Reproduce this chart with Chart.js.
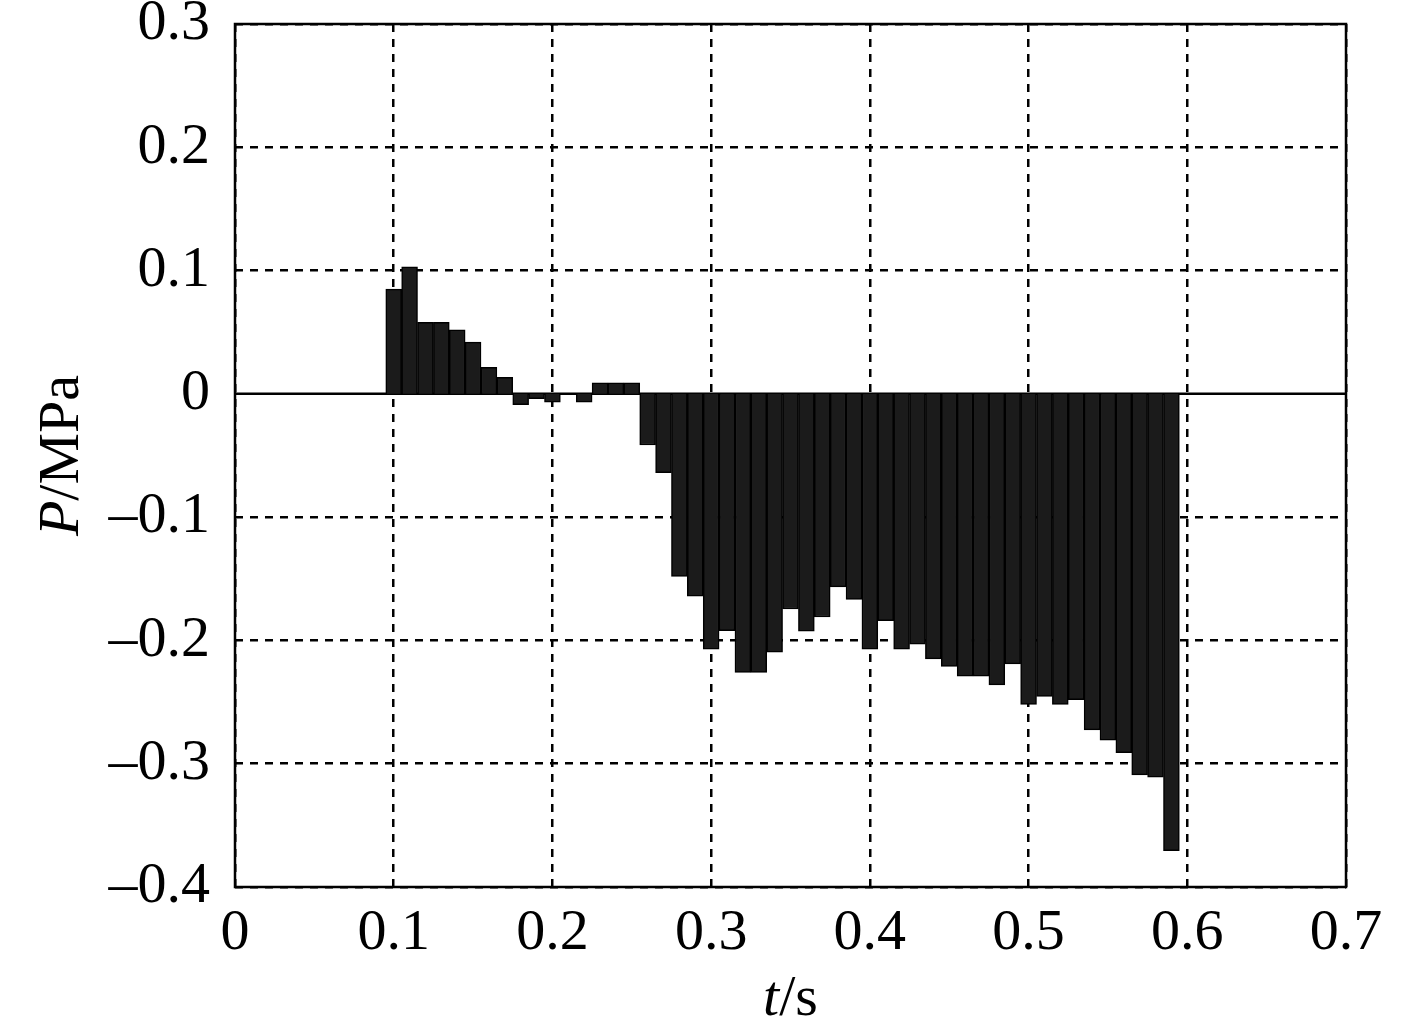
<!DOCTYPE html>
<html>
<head>
<meta charset="utf-8">
<script src="https://cdn.jsdelivr.net/npm/chart.js@4.4.1/dist/chart.umd.min.js"></script>
<style>
    html, body { margin: 0; padding: 0; background: #fff; }
</style>
</head>
<body>
<canvas id="grafico" width="1417" height="1025"></canvas>
<script>
// tempo (s) no centro de cada barra
var tempos = [
    0.10, 0.11, 0.12, 0.13, 0.14, 0.15, 0.16, 0.17, 0.18, 0.19,
    0.20, 0.21, 0.22, 0.23, 0.24, 0.25, 0.26, 0.27, 0.28, 0.29,
    0.30, 0.31, 0.32, 0.33, 0.34, 0.35, 0.36, 0.37, 0.38, 0.39,
    0.40, 0.41, 0.42, 0.43, 0.44, 0.45, 0.46, 0.47, 0.48, 0.49,
    0.50, 0.51, 0.52, 0.53, 0.54, 0.55, 0.56, 0.57, 0.58, 0.59
]

// pressao (MPa)
var pressao = [
    0.085, 0.103, 0.058, 0.058, 0.052, 0.042, 0.0215, 0.0134, -0.0087, -0.004,
    -0.0068, 0, -0.0068, 0.009, 0.009, 0.009, -0.0415, -0.064, -0.148, -0.164,
    -0.207, -0.192, -0.226, -0.226, -0.2095, -0.1745, -0.1925, -0.181, -0.1565, -0.1667,
    -0.207, -0.184, -0.207, -0.203, -0.215, -0.221, -0.229, -0.229, -0.236, -0.219,
    -0.252, -0.2455, -0.252, -0.248, -0.2725, -0.281, -0.291, -0.309, -0.311, -0.3705
]

var ticksX = ['0', '0.1', '0.2', '0.3', '0.4', '0.5', '0.6', '0.7']
var ticksY = ['\u20130.4', '\u20130.3', '\u20130.2', '\u20130.1', '0', '0.1', '0.2', '0.3']

var fonte = "'Liberation Serif', 'Times New Roman', serif"

//desenha moldura, linha do zero e titulos dos eixos
var moldura = {
    id: 'moldura',
    beforeDatasetsDraw: function(chart){
        var ctx = chart.ctx
        var a = chart.chartArea
        var y0 = chart.scales.y.getPixelForValue(0)
        ctx.save()
        ctx.strokeStyle = '#000'
        ctx.lineWidth = 2.5
        ctx.beginPath()
        ctx.moveTo(a.left, y0)
        ctx.lineTo(a.right, y0)
        ctx.stroke()
        ctx.restore()
    },
    afterDraw: function(chart){
        var ctx = chart.ctx
        var a = chart.chartArea
        ctx.save()
        ctx.strokeStyle = '#000'
        ctx.lineWidth = 2.5
        ctx.strokeRect(a.left, a.top, a.right - a.left, a.bottom - a.top)

        ctx.fillStyle = '#000'
        ctx.textBaseline = 'alphabetic'
        ctx.textAlign = 'left'

        //titulo eixo x: t/s
        var it = 'italic 58px ' + fonte
        var nm = '58px ' + fonte
        ctx.font = it
        var w1 = ctx.measureText('t').width
        ctx.font = nm
        var w2 = ctx.measureText('/s').width
        var cx = (a.left + a.right) / 2
        var x = cx - (w1 + w2) / 2
        ctx.font = it
        ctx.fillText('t', x, 1015)
        ctx.font = nm
        ctx.fillText('/s', x + w1, 1015)

        //titulo eixo y: P/MPa
        ctx.translate(78, (a.top + a.bottom) / 2)
        ctx.rotate(-Math.PI / 2)
        ctx.font = it
        var p1 = ctx.measureText('P').width
        ctx.font = nm
        var p2 = ctx.measureText('/MPa').width
        var px = -(p1 + p2) / 2
        ctx.font = it
        ctx.fillText('P', px, 0)
        ctx.font = nm
        ctx.fillText('/MPa', px + p1, 0)
        ctx.restore()
    }
}

function grafico(){
    var pontos = []
    tempos.forEach(function(t, i){
        pontos.push({x: t, y: pressao[i]})
    })

    new Chart(document.getElementById('grafico').getContext('2d'), {
        type: 'bar',
        data: {
            datasets: [{
                data: pontos,
                backgroundColor: '#1b1b1b',
                borderColor: '#000',
                borderWidth: 1.5,
                barPercentage: 1,
                categoryPercentage: 1
            }]
        },
        options: {
            responsive: false,
            animation: false,
            layout: { padding: { top: 24, right: 71, bottom: 0, left: 0 } },
            plugins: { legend: { display: false }, tooltip: { enabled: false } },
            scales: {
                x: {
                    type: 'linear',
                    offset: false,
                    min: 0,
                    max: 0.7,
                    afterFit: function(s){
                        s.height = 138
                        s.paddingLeft = 0
                        s.paddingRight = 0
                    },
                    ticks: {
                        stepSize: 0.1,
                        padding: 18,
                        color: '#000',
                        font: { family: fonte, size: 58, lineHeight: 1 },
                        maxRotation: 0,
                        callback: function(v){ return ticksX[Math.round(v / 0.1)] }
                    },
                    grid: { color: '#000', lineWidth: 2.5, drawTicks: false, offset: false },
                    border: { display: false, dash: [8, 7] }
                },
                y: {
                    min: -0.4,
                    max: 0.3,
                    afterFit: function(s){
                        s.width = 235
                        s.paddingTop = 0
                        s.paddingBottom = 0
                    },
                    ticks: {
                        stepSize: 0.1,
                        padding: 25,
                        color: '#000',
                        font: { family: fonte, size: 58, lineHeight: 0.8 },
                        callback: function(v){ return ticksY[Math.round((v + 0.4) / 0.1)] }
                    },
                    grid: {
                        color: function(c){
                            return (c.tick && Math.abs(c.tick.value) < 1e-9) ? 'rgba(0,0,0,0)' : '#000'
                        },
                        lineWidth: 2.5,
                        drawTicks: false
                    },
                    border: { display: false, dash: [8, 7] }
                }
            }
        },
        plugins: [moldura]
    })
}

grafico()
</script>
</body>
</html>
